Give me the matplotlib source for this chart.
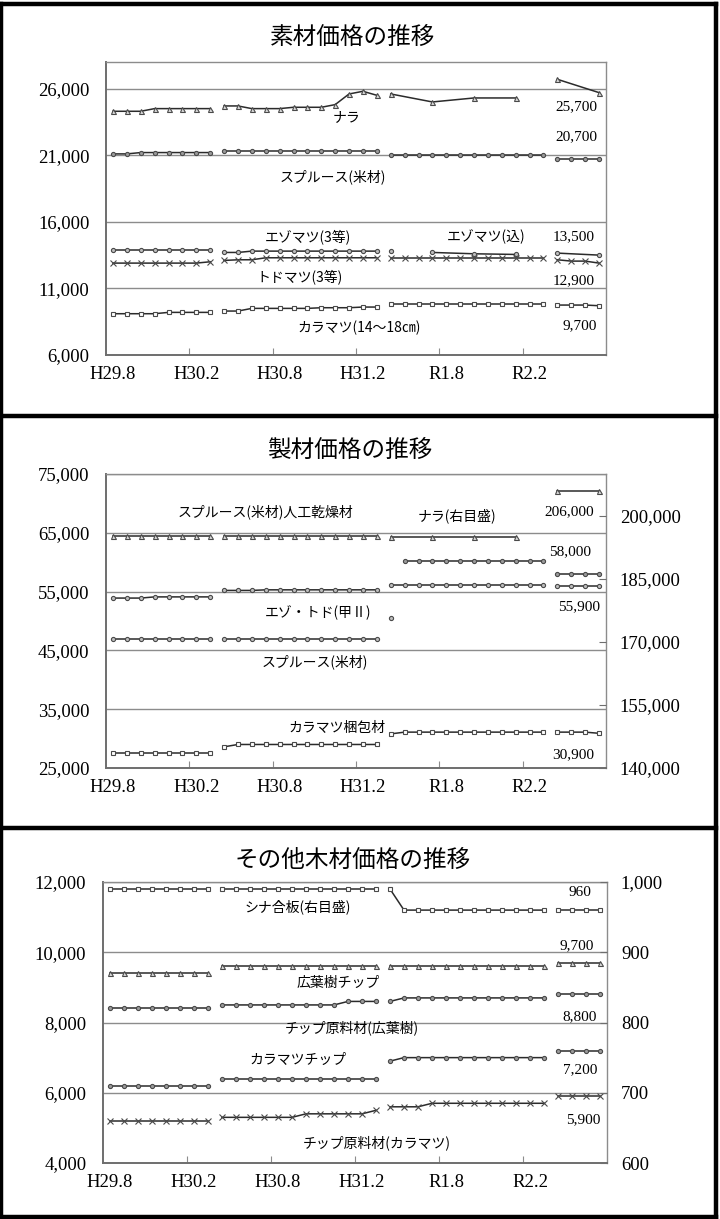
import numpy as np
import matplotlib
matplotlib.use("Agg")
import matplotlib.pyplot as plt
from matplotlib.lines import Line2D

plt.rcParams["font.family"] = ["Noto Sans CJK JP", "DejaVu Sans"]

W, H = 720, 1219
n = None

# 36 monthly categories, H29.8 .. R2.7; lines are broken at fiscal-year blocks
tick_labels = ["H29.8", "H30.2", "H30.8", "H31.2", "R1.8", "R2.2"]
label_pos = [0, 6, 12, 18, 24, 30]
blocks = [(0, 8), (8, 20), (20, 32), (32, 36)]

# ---- 素材価格 ----
nara = [24300, 24300, 24300, 24500, 24500, 24500, 24500, 24500,
        24700, 24700, 24500, 24500, 24500, 24600, 24600, 24600, 24800, 25600, 25800, 25500,
        25600, n, n, 25000, n, n, 25300, n, n, 25300, n, n,
        26700, n, n, 25700]
spruce = [21100, 21100, 21200, 21200, 21200, 21200, 21200, 21200,
          21300, 21300, 21300, 21300, 21300, 21300, 21300, 21300, 21300, 21300, 21300, 21300,
          21050, 21050, 21050, 21050, 21050, 21050, 21050, 21050, 21050, 21050, 21050, 21050,
          20700, 20700, 20700, 20700]
ezo3 = [13900, 13900, 13900, 13900, 13900, 13900, 13900, 13900,
        13700, 13700, 13800, 13800, 13800, 13800, 13800, 13800, 13800, 13800, 13800, 13800,
        13800, n, n, n, n, n, n, n, n, n, n, n,
        n, n, n, n]
ezo_komi = [n, n, n, n, n, n, n, n,
            n, n, n, n, n, n, n, n, n, n, n, n,
            n, n, n, 13700, n, n, 13600, n, n, 13550, n, n,
            13650, n, n, 13500]
todo3 = [12900, 12900, 12900, 12900, 12900, 12900, 12900, 13000,
         13100, 13150, 13150, 13300, 13300, 13300, 13300, 13300, 13300, 13300, 13300, 13300,
         13250, 13250, 13250, 13250, 13250, 13250, 13250, 13250, 13250, 13250, 13250, 13250,
         13150, 13050, 13050, 12900]
karamatsu = [9100, 9100, 9100, 9100, 9200, 9200, 9200, 9200,
             9300, 9300, 9500, 9500, 9500, 9500, 9500, 9550, 9550, 9550, 9600, 9600,
             9800, 9800, 9800, 9800, 9800, 9800, 9800, 9800, 9800, 9800, 9800, 9800,
             9750, 9750, 9750, 9700]

# ---- 製材価格 ----
spruce_kd = [64500, 64500, 64500, 64500, 64500, 64500, 64500, 64500,
             64500, 64500, 64500, 64500, 64500, 64500, 64500, 64500, 64500, 64500, 64500, 64500,
             n, n, n, n, n, n, n, n, n, n, n, n,
             n, n, n, n]
nara_lumber = [n, n, n, n, n, n, n, n,
               n, n, n, n, n, n, n, n, n, n, n, n,
               195000, n, n, 195000, n, n, 195000, n, n, 195000, n, n,
               206000, n, n, 206000]
spruce_kd_r1 = [n, n, n, n, n, n, n, n,
                n, n, n, n, n, n, n, n, n, n, n, n,
                n, 60200, 60200, 60200, 60200, 60200, 60200, 60200, 60200, 60200, 60200, 60200,
                58000, 58000, 58000, 58000]
ezo_todo = [53900, 53900, 53900, 54100, 54100, 54100, 54100, 54100,
            55200, 55200, 55200, 55300, 55300, 55300, 55300, 55300, 55300, 55300, 55300, 55300,
            56100, 56100, 56100, 56100, 56100, 56100, 56100, 56100, 56100, 56100, 56100, 56100,
            55900, 55900, 55900, 55900]
spruce_lumber = [47000, 47000, 47000, 47000, 47000, 47000, 47000, 47000,
                 47000, 47000, 47000, 47000, 47000, 47000, 47000, 47000, 47000, 47000, 47000, 47000,
                 50500, n, n, n, n, n, n, n, n, n, n, n,
                 n, n, n, n]
kara_pack = [27500, 27500, 27500, 27500, 27500, 27500, 27500, 27500,
             28600, 29000, 29000, 29000, 29000, 29000, 29000, 29000, 29000, 29000, 29000, 29000,
             30800, 31100, 31100, 31100, 31100, 31100, 31100, 31100, 31100, 31100, 31100, 31100,
             31100, 31100, 31100, 30900]

# ---- その他木材価格 ----
shina = [990, 990, 990, 990, 990, 990, 990, 990,
         990, 990, 990, 990, 990, 990, 990, 990, 990, 990, 990, 990,
         990, 960, 960, 960, 960, 960, 960, 960, 960, 960, 960, 960,
         960, 960, 960, 960]
hw_chip = [9400, 9400, 9400, 9400, 9400, 9400, 9400, 9400,
           9600, 9600, 9600, 9600, 9600, 9600, 9600, 9600, 9600, 9600, 9600, 9600,
           9600, 9600, 9600, 9600, 9600, 9600, 9600, 9600, 9600, 9600, 9600, 9600,
           9700, 9700, 9700, 9700]
hw_raw = [8400, 8400, 8400, 8400, 8400, 8400, 8400, 8400,
          8500, 8500, 8500, 8500, 8500, 8500, 8500, 8500, 8500, 8600, 8600, 8600,
          8600, 8700, 8700, 8700, 8700, 8700, 8700, 8700, 8700, 8700, 8700, 8700,
          8800, 8800, 8800, 8800]
kara_chip = [6200, 6200, 6200, 6200, 6200, 6200, 6200, 6200,
             6400, 6400, 6400, 6400, 6400, 6400, 6400, 6400, 6400, 6400, 6400, 6400,
             6900, 7000, 7000, 7000, 7000, 7000, 7000, 7000, 7000, 7000, 7000, 7000,
             7200, 7200, 7200, 7200]
kara_raw = [5200, 5200, 5200, 5200, 5200, 5200, 5200, 5200,
            5300, 5300, 5300, 5300, 5300, 5300, 5400, 5400, 5400, 5400, 5400, 5500,
            5600, 5600, 5600, 5700, 5700, 5700, 5700, 5700, 5700, 5700, 5700, 5700,
            5900, 5900, 5900, 5900]

LINE = "#2b2b2b"
MEC = "#4a4a4a"
GRID = "#8c8c8c"
NUM_FONT = "Liberation Serif"
TICK_SIZE = 13.5

fig = plt.figure(figsize=(W / 100, H / 100), dpi=100)


def px_axes(left, top, right, bottom):
    return fig.add_axes([left / W, 1 - bottom / H, (right - left) / W, (bottom - top) / H])


def ftext(x, y, s, size=10, ha="center", **kw):
    fig.text(x / W, 1 - y / H, s, fontsize=size, ha=ha, va="center", **kw)


def series(ax, vals, marker, mfc, ms=3.2):
    v = np.array([np.nan if x is None else x for x in vals], dtype=float)
    for a, b in blocks:
        idx = [i for i in range(a, b) if not np.isnan(v[i])]
        if idx:
            ax.plot(idx, v[idx], color=LINE, lw=1.1, marker=marker, ms=ms,
                    mfc=mfc, mec=MEC, mew=0.8, zorder=3, clip_on=False)


def style(ax, ymin, ymax, step):
    ax.set_xlim(-0.5, 35.5)
    ax.set_ylim(ymin, ymax)
    yt = np.arange(ymin, ymax + 1, step)
    ax.set_yticks(yt)
    ax.set_yticklabels([f"{int(t):,}" for t in yt], fontfamily=NUM_FONT, fontsize=TICK_SIZE)
    ax.tick_params(axis="y", length=0, pad=12)
    for t in yt[1:]:
        ax.axhline(t, color=GRID, lw=1.0, zorder=1)
    ax.set_xticks([5.5, 11.5, 17.5, 23.5, 29.5])
    ax.set_xticklabels([])
    ax.set_xticks(label_pos, minor=True)
    ax.set_xticklabels(tick_labels, minor=True, fontfamily=NUM_FONT, fontsize=TICK_SIZE)
    ax.tick_params(axis="x", which="major", direction="in", length=5, color=GRID)
    ax.tick_params(axis="x", which="minor", length=0, pad=8)
    for s in ax.spines.values():
        s.set_color(GRID)
        s.set_linewidth(1.0)
    ax.spines["left"].set_color("#6e6e6e")
    ax.spines["bottom"].set_color("#6e6e6e")
    ax.spines["left"].set_linewidth(1.4)
    ax.spines["bottom"].set_linewidth(1.4)


def right_axis(ax, ymin, ymax, ticks):
    ax2 = ax.twinx()
    ax2.set_ylim(ymin, ymax)
    ax2.set_yticks(ticks)
    ax2.set_yticklabels([f"{int(t):,}" for t in ticks], fontfamily=NUM_FONT, fontsize=TICK_SIZE)
    ax2.tick_params(axis="y", direction="in", length=5, color="#6e6e6e", pad=10)
    for s in ax2.spines.values():
        s.set_visible(False)
    return ax2


def value_label(x, y, s):
    ftext(x, y, s, size=11, ha="right", fontfamily=NUM_FONT)


# ---------------- panel 1 ----------------
ax1 = px_axes(106, 62, 606, 355)
style(ax1, 6000, 28000, 5000)
ax1.set_yticks([6000, 11000, 16000, 21000, 26000])
ax1.set_yticklabels(["6,000", "11,000", "16,000", "21,000", "26,000"],
                    fontfamily=NUM_FONT, fontsize=TICK_SIZE)
series(ax1, nara, "^", "#d9d9d9", 3.6)
series(ax1, spruce, "o", "#9a9a9a", 3.0)
series(ax1, ezo3, "o", "#bdbdbd", 3.0)
series(ax1, ezo_komi, "o", "#bdbdbd", 3.0)
series(ax1, todo3, "x", "none", 4.0)
series(ax1, karamatsu, "s", "white", 3.0)

ftext(353, 37, "素材価格の推移", size=17)
ftext(347, 117, "ナラ")
ftext(333, 177, "スプルース(米材)")
ftext(308, 237, "エゾマツ(3等)")
ftext(300, 277, "トドマツ(3等)")
ftext(486, 237, "エゾマツ(込)")
ftext(359, 328, "カラマツ(14～18㎝)")
value_label(597, 107, "25,700")
value_label(597, 137, "20,700")
value_label(595, 237, "13,500")
value_label(595, 281, "12,900")
value_label(597, 326, "9,700")

# ---------------- panel 2 ----------------
ax2 = px_axes(106, 474, 606, 768)
style(ax2, 25000, 75000, 10000)
ax2r = right_axis(ax2, 140000, 210000, [140000, 155000, 170000, 185000, 200000])
series(ax2, spruce_kd, "^", "#d9d9d9", 3.6)
series(ax2r, nara_lumber, "^", "#d9d9d9", 3.6)
series(ax2, spruce_kd_r1, "o", "#9a9a9a", 3.0)
series(ax2, ezo_todo, "o", "#bdbdbd", 3.0)
series(ax2, spruce_lumber, "o", "#bdbdbd", 3.0)
series(ax2, kara_pack, "s", "white", 3.0)

ftext(350, 450, "製材価格の推移", size=17)
ftext(265, 512, "スプルース(米材)人工乾燥材")
ftext(457, 516, "ナラ(右目盛)")
ftext(318, 613, "エゾ・トド(甲Ⅱ)")
ftext(315, 662, "スプルース(米材)")
ftext(337, 728, "カラマツ梱包材")
value_label(594, 512, "206,000")
value_label(591, 552, "58,000")
value_label(600, 607, "55,900")
value_label(594, 755, "30,900")

# ---------------- panel 3 ----------------
ax3 = px_axes(103, 882, 607, 1163)
style(ax3, 4000, 12000, 2000)
ax3r = right_axis(ax3, 600, 1000, [600, 700, 800, 900, 1000])
series(ax3r, shina, "s", "white", 3.0)
series(ax3, hw_chip, "^", "#d9d9d9", 3.6)
series(ax3, hw_raw, "o", "#9a9a9a", 3.0)
series(ax3, kara_chip, "o", "#9a9a9a", 3.0)
series(ax3, kara_raw, "x", "none", 4.0)

ftext(353, 860, "その他木材価格の推移", size=17)
ftext(298, 907, "シナ合板(右目盛)")
ftext(338, 983, "広葉樹チップ")
ftext(352, 1028, "チップ原料材(広葉樹)")
ftext(298, 1060, "カラマツチップ")
ftext(377, 1143, "チップ原料材(カラマツ)")
value_label(591, 893, "960")
value_label(594, 946, "9,700")
value_label(597, 1017, "8,800")
value_label(597, 1070, "7,200")
value_label(600, 1120, "5,900")

# outer frame and panel separators
frame = [((1, 1), (4, 1217)), ((716, 716), (4, 1217)), ((1, 716), (4, 4)),
         ((1, 716), (415.5, 415.5)), ((1, 716), (828, 828)), ((1, 716), (1217, 1217))]
for xs, ys in frame:
    fig.add_artist(Line2D([x / W for x in xs], [1 - y / H for y in ys],
                          color="black", lw=3.2, solid_capstyle="projecting"))

fig.savefig("out.png", dpi=100)
